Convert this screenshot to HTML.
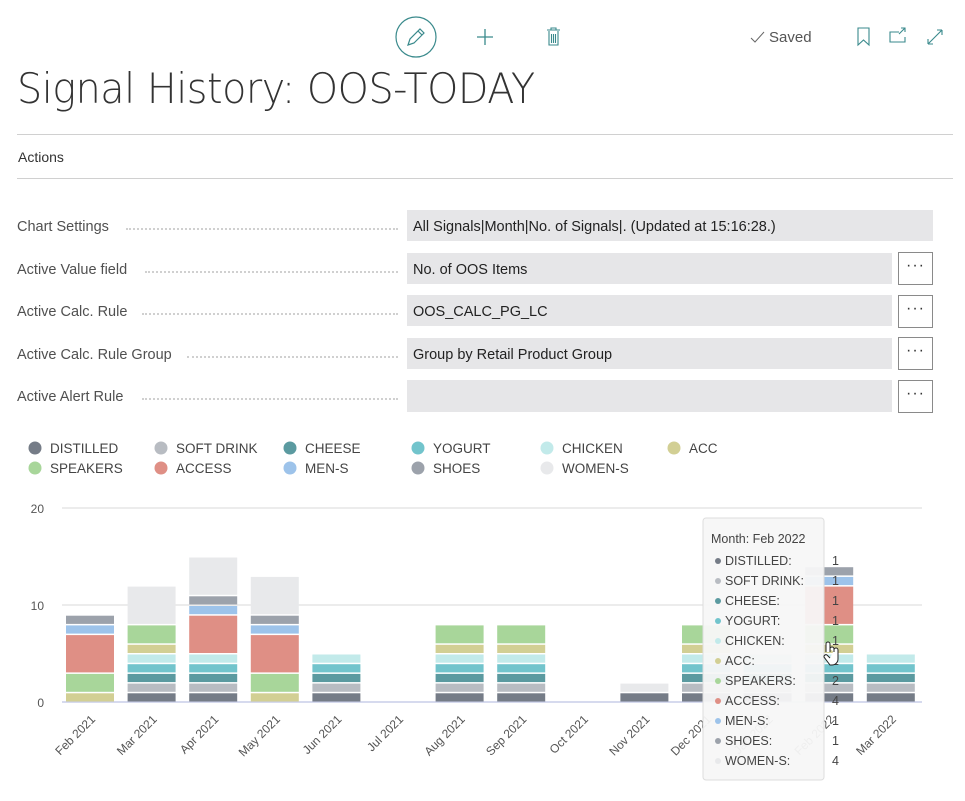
<!DOCTYPE html>
<html><head><meta charset="utf-8"><style>
body{margin:0;width:965px;height:801px;background:#fff;font-family:"Liberation Sans",sans-serif;color:#333;position:relative;overflow:hidden}
.a{position:absolute}
.lbl{position:absolute;left:17px;font-size:14.5px;color:#505050}
.dots{position:absolute;left:0;border-bottom:2px dotted #d0d0d0;height:0}
.fld{position:absolute;left:407px;background:#e6e6e8;height:31px;font-size:14.5px;line-height:34px;padding-left:6px;box-sizing:border-box;color:#222}
.btn{position:absolute;left:898px;width:35px;height:33px;border:1px solid #8a8a8a;box-sizing:border-box;font-size:16px;text-align:center;line-height:26px;color:#333;letter-spacing:1px}
</style></head><body>
<svg class="a" style="left:0;top:0" width="965" height="80">
<circle cx="416" cy="37" r="20" fill="none" stroke="#3a8a8c" stroke-width="1.2"/>
<path d="M408 45 l2-6 l10-10 l4 4 l-10 10 z M418 31 l4 4" fill="none" stroke="#3a8a8c" stroke-width="1.2"/>
<path d="M485 29 v16 M477 37 h16" stroke="#3a8a8c" stroke-width="1.3"/>
<path d="M547 30 h13 M551 30 v-2 h5 v2 M549 31 v14 h9 v-14 M551.5 34 v9 M553.5 34 v9 M555.5 34 v9" fill="none" stroke="#3a8a8c" stroke-width="1.1"/>
<path d="M751 38 l4 4 l9-10" fill="none" stroke="#666" stroke-width="1"/>
<text x="769" y="42" font-size="15" fill="#555" font-family="Liberation Sans">Saved</text>
<path d="M858 28 h11 v17 l-5.5-5 l-5.5 5 z" fill="none" stroke="#3a8a8c" stroke-width="1.1"/>
<path d="M899 32 h-9 v10 h15 v-5 M899 34 l6-6 M901 28 h4 v4" fill="none" stroke="#3a8a8c" stroke-width="1.1"/>
<path d="M928 44 l14-14 M928 44 v-5 M928 44 h5 M942 30 h-5 M942 30 v5" fill="none" stroke="#3a8a8c" stroke-width="1.1"/>
</svg>
<div class="a" style="left:17px;top:64px;font-size:42px;color:#333;font-family:'DejaVu Sans','Liberation Sans',sans-serif;font-weight:200;letter-spacing:-0.5px;transform:scaleX(0.945);transform-origin:left">Signal History: OOS-TODAY</div>
<div class="a" style="left:17px;top:134px;width:936px;height:1px;background:#d0d0d0"></div>
<div class="a" style="left:18px;top:149px;font-size:14px;color:#333">Actions</div>
<div class="a" style="left:17px;top:178px;width:936px;height:1px;background:#d0d0d0"></div>

<div class="lbl" style="top:219px">Chart Settings</div><div class="dots" style="left:126px;width:272px;top:228px"></div>
<div class="fld" style="top:210px;width:526px">All Signals|Month|No. of Signals|. (Updated at 15:16:28.)</div>
<div class="lbl" style="top:262px">Active Value field</div><div class="dots" style="left:145px;width:253px;top:271px"></div>
<div class="fld" style="top:253px;width:485px">No. of OOS Items</div><div class="btn" style="top:252px">···</div>
<div class="lbl" style="top:304px">Active Calc. Rule</div><div class="dots" style="left:142px;width:256px;top:313px"></div>
<div class="fld" style="top:295px;width:485px">OOS_CALC_PG_LC</div><div class="btn" style="top:295px">···</div>
<div class="lbl" style="top:347px">Active Calc. Rule Group</div><div class="dots" style="left:187px;width:211px;top:356px"></div>
<div class="fld" style="top:338px;width:485px">Group by Retail Product Group</div><div class="btn" style="top:337px">···</div>
<div class="lbl" style="top:389px">Active Alert Rule</div><div class="dots" style="left:142px;width:256px;top:398px"></div>
<div class="fld" style="top:380px;width:485px;height:32px"></div><div class="btn" style="top:380px">···</div>

<svg id="ch" class="a" style="left:0;top:430px" width="965" height="371" font-family="Liberation Sans"></svg>
<script>
var C=["#757c87","#b8bcc2","#5b9aa0","#72c4cc","#c2eaea","#d2cf94","#a8d69a","#df8f85","#9dc3ea","#9ca2ab","#e8e9eb"];
var N=["DISTILLED","SOFT DRINK","CHEESE","YOGURT","CHICKEN","ACC","SPEAKERS","ACCESS","MEN-S","SHOES","WOMEN-S"];
var s='';
var lx=[35,161,290,418,547,674];
for(var i=0;i<11;i++){var r=i<6?0:1,c=i<6?i:i-6;s+='<circle cx="'+lx[c]+'" cy="'+(18+r*20)+'" r="6.5" fill="'+C[i]+'"/><text x="'+(lx[c]+15)+'" y="'+(23+r*20)+'" font-size="13.5" fill="#444">'+N[i]+'</text>';}
var y0=272,u=9.7;
[[0,272],[10,175],[20,78]].forEach(function(g){s+='<line x1="62" x2="922" y1="'+g[1]+'" y2="'+g[1]+'" stroke="'+(g[0]?'#ececec':'#c8cde8')+'" stroke-width="'+(g[0]?2:1.5)+'"/><text x="44" y="'+(g[1]+5)+'" font-size="12" fill="#555" text-anchor="end">'+g[0]+'</text>';});
var D=[[0,0,0,0,0,1,2,4,1,1,0],[1,1,1,1,1,1,2,0,0,0,4],[1,1,1,1,1,0,0,4,1,1,4],[0,0,0,0,0,1,2,4,1,1,4],[1,1,1,1,1,0,0,0,0,0,0],[],[1,1,1,1,1,1,2,0,0,0,0],[1,1,1,1,1,1,2,0,0,0,0],[],[1,0,0,0,0,0,0,0,0,0,1],[1,1,1,1,1,1,2,0,0,0,0],[1,1,1,1,1,0,0,0,0,0,0],[1,1,1,1,1,1,2,4,1,1,0],[1,1,1,1,1,0,0,0,0,0,0]];
var M=["Feb 2021","Mar 2021","Apr 2021","May 2021","Jun 2021","Jul 2021","Aug 2021","Sep 2021","Oct 2021","Nov 2021","Dec 2021","Jan 2022","Feb 2022","Mar 2022"];
for(var m=0;m<14;m++){var x=66+m*61.6,cum=0;for(var k=0;k<11;k++){var v=D[m][k]||0;if(!v)continue;var yt=y0-(cum+v)*u;s+='<rect x="'+x.toFixed(1)+'" y="'+(yt+1).toFixed(1)+'" width="48" height="'+(v*u-1.5).toFixed(1)+'" fill="'+C[k]+'"/>';cum+=v;}
var cx=x+30;s+='<text transform="translate('+cx.toFixed(1)+',290) rotate(-45)" font-size="12" fill="#555" text-anchor="end">'+M[m]+'</text>';}
s+='<rect x="703" y="88" width="121" height="262" rx="3" fill="#f7f7f7" fill-opacity="0.95" stroke="#ddd"/>';
s+='<text x="711" y="113" font-size="12.5" fill="#444">Month: Feb 2022</text>';
var V=[1,1,1,1,1,1,2,4,1,1,4];
for(var i=0;i<11;i++){var yy=135+i*20;s+='<circle cx="718" cy="'+(yy-4)+'" r="3" fill="'+C[i]+'"/><text x="725" y="'+yy+'" font-size="12.5" fill="#444">'+N[i]+':</text><text x="832" y="'+yy+'" font-size="12.5" fill="#444">'+V[i]+'</text>';}
s+='<path d="M826 222 v-8 a2 2 0 0 1 4 0 v8 m0-3 a2 2 0 0 1 4 0 v3 m0-2 a2 2 0 0 1 4 0 v3 v6 a6 6 0 0 1 -6 6 h-2 l-6-8 a2 2 0 0 1 3-2 l3 3" fill="#fff" stroke="#222" stroke-width="1"/>';
document.getElementById('ch').innerHTML=s;
</script>
</body></html>
